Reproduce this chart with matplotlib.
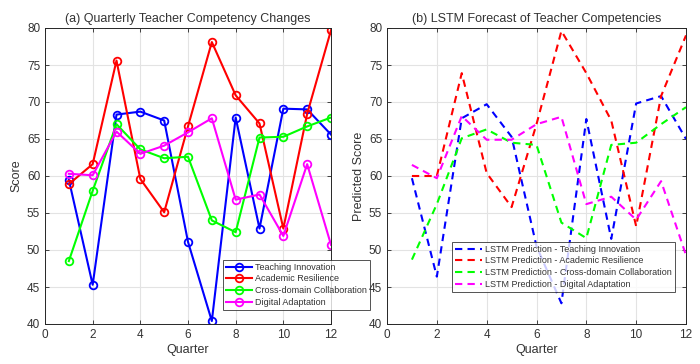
import matplotlib
matplotlib.use("Agg")
import matplotlib.pyplot as plt

plt.rcParams['font.family'] = ['Liberation Sans', 'DejaVu Sans']

quarters = list(range(1, 13))
series_names = ["Teaching Innovation", "Academic Resilience",
                "Cross-domain Collaboration", "Digital Adaptation"]
teaching = [59.5, 45.3, 68.3, 68.7, 67.5, 51.1, 40.4, 67.9, 52.9, 69.1, 69.0, 65.6]
resilience = [58.9, 61.6, 75.6, 59.6, 55.1, 66.7, 78.1, 70.9, 67.1, 52.9, 68.4, 79.7]
collab = [48.5, 58.0, 67.0, 63.6, 62.4, 62.6, 54.0, 52.4, 65.2, 65.3, 66.7, 67.9]
digital = [60.3, 60.1, 66.0, 63.0, 64.1, 65.9, 67.8, 56.8, 57.5, 51.9, 61.6, 50.7]

pred_teaching = [59.7, 46.4, 67.8, 69.7, 65.3, 50.5, 42.8, 67.7, 51.5, 69.8, 70.8, 65.0]
pred_resilience = [60.0, 60.0, 73.9, 60.4, 55.8, 67.0, 79.6, 73.9, 67.5, 53.2, 70.8, 79.0]
pred_collab = [48.7, 56.2, 65.1, 66.3, 64.5, 64.2, 53.7, 51.6, 64.2, 64.5, 67.0, 69.3]
pred_digital = [61.5, 59.7, 68.1, 64.9, 64.9, 67.0, 68.0, 56.2, 57.2, 54.1, 59.3, 49.3]

colors = ['#0000ff', '#ff0000', '#00ff00', '#ff00ff']
xticks = [0, 2, 4, 6, 8, 10, 12]
yticks = [40, 45, 50, 55, 60, 65, 70, 75, 80]

fig = plt.figure(figsize=(7.0, 3.64), dpi=100)
W, H = 700, 364
ax1 = fig.add_axes([45 / W, 1 - 324 / H, (331 - 45) / W, (324 - 28) / H])
ax2 = fig.add_axes([387 / W, 1 - 324 / H, (686 - 387) / W, (324 - 28) / H])

axc = '#262626'
txtc = '#333333'

def style(ax):
    ax.set_xlim(0, 12)
    ax.set_ylim(40, 80)
    ax.set_xticks(xticks)
    ax.set_yticks(yticks)
    ax.grid(True, color='#e3e3e3', linewidth=0.8)
    ax.set_axisbelow(True)
    ax.tick_params(direction='in', length=3, width=0.6, colors=axc, labelcolor=txtc,
                   labelsize=8.5, top=True, right=True, labeltop=False, labelright=False)
    for s in ax.spines.values():
        s.set_color(axc)
        s.set_linewidth(0.7)
    ax.set_xlabel('Quarter', fontsize=9, color=txtc, labelpad=2)

actual = [teaching, resilience, collab, digital]
preds = [pred_teaching, pred_resilience, pred_collab, pred_digital]

for vals, c, n in zip(actual, colors, series_names):
    ax1.plot(quarters, vals, '-o', color=c, linewidth=1.5, markersize=5.5,
             markerfacecolor='none', markeredgewidth=1.3, label=n)
style(ax1)
ax1.set_ylabel('Score', fontsize=9, color=txtc, labelpad=3)
ax1.set_title('(a) Quarterly Teacher Competency Changes', fontsize=9, color=txtc, pad=4)
leg1 = ax1.legend(loc='lower left', bbox_to_anchor=((223 - 45) / 286, (324 - 310) / 296),
                  fontsize=6.5, frameon=True, fancybox=False, edgecolor=axc,
                  handlelength=2.9, handletextpad=0.3, borderpad=0.35, labelspacing=0.3,
                  borderaxespad=0)
leg1.get_frame().set_linewidth(0.7)
leg1.set_zorder(10)
for t in leg1.get_texts():
    t.set_color(txtc)

for vals, c, n in zip(preds, colors, series_names):
    ax2.plot(quarters, vals, '--', color=c, linewidth=1.5, dashes=(3.5, 2.5),
             label='LSTM Prediction - ' + n)
style(ax2)
ax2.set_ylabel('Predicted Score', fontsize=9, color=txtc, labelpad=3)
ax2.set_title('(b) LSTM Forecast of Teacher Competencies', fontsize=9, color=txtc, pad=4)
leg2 = ax2.legend(loc='lower left', bbox_to_anchor=((452 - 387) / 299, (324 - 292) / 296),
                  fontsize=6.5, frameon=True, fancybox=False, edgecolor=axc,
                  handlelength=3.0, handletextpad=0.3, borderpad=0.35, labelspacing=0.3,
                  borderaxespad=0)
leg2.get_frame().set_linewidth(0.7)
for t in leg2.get_texts():
    t.set_color(txtc)

fig.savefig('out.png', dpi=100)
